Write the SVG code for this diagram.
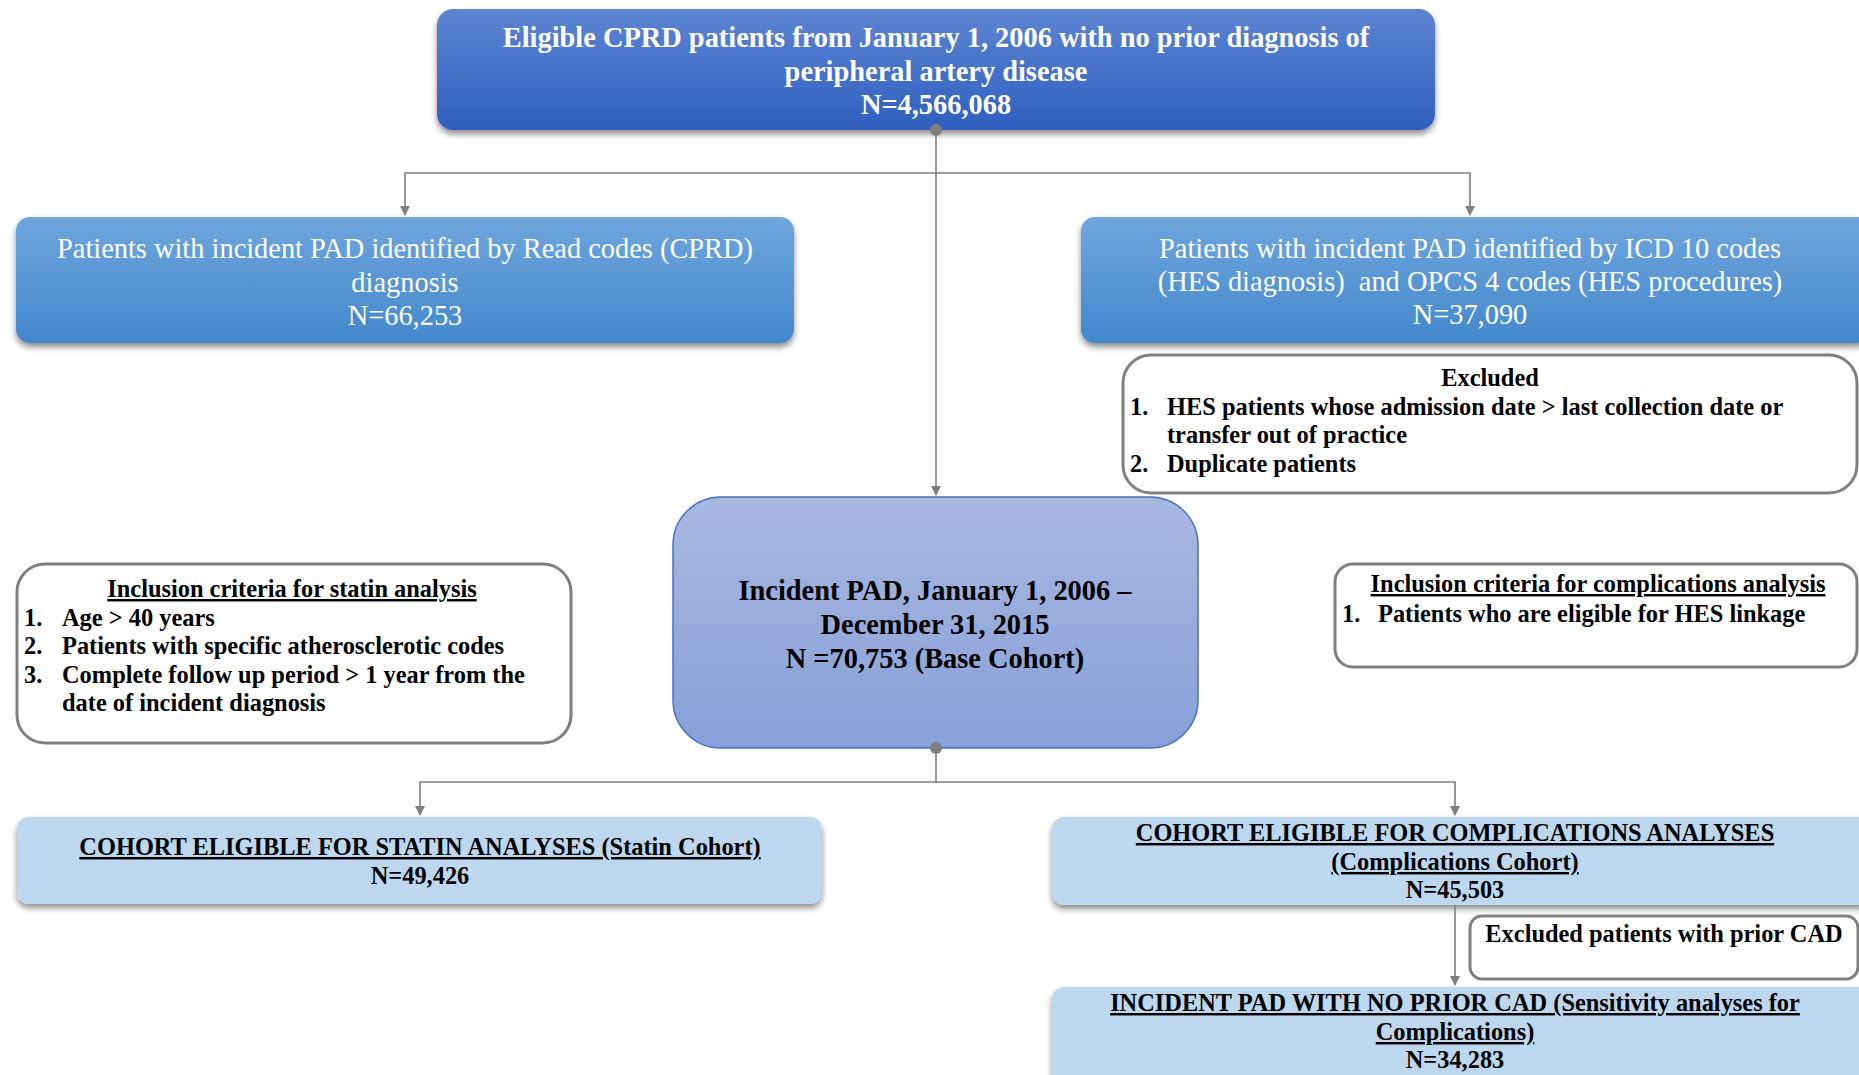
<svg xmlns="http://www.w3.org/2000/svg" width="1859" height="1075" viewBox="0 0 1859 1075">
<defs>
<linearGradient id="gTop" x1="0" y1="0" x2="0" y2="1"><stop offset="0" stop-color="#5d85d2"/><stop offset="1" stop-color="#2f5fbe"/></linearGradient>
<linearGradient id="gMid" x1="0" y1="0" x2="0" y2="1"><stop offset="0" stop-color="#6fa6dd"/><stop offset="1" stop-color="#4288cb"/></linearGradient>
<linearGradient id="gBase" x1="0" y1="0" x2="0" y2="1"><stop offset="0" stop-color="#a9b8e0"/><stop offset="1" stop-color="#87a0d8"/></linearGradient>
<filter id="sh" x="-5%" y="-10%" width="110%" height="130%"><feDropShadow dx="0" dy="4" stdDeviation="3" flood-color="#000" flood-opacity="0.45"/></filter>
<marker id="arr" markerWidth="10" markerHeight="10" refX="9" refY="5" orient="auto" markerUnits="userSpaceOnUse"><path d="M0,0 L10,5 L0,10 z" fill="#7f7f7f"/></marker>
<style>
text{font-family:"Liberation Serif","Times New Roman",serif;}
.w{fill:#fff;font-size:28.4px;text-anchor:middle;}
.wb{fill:#fff;font-size:28.4px;font-weight:bold;text-anchor:middle;}
.b{fill:#000;font-size:24.4px;font-weight:bold;}
.bc{fill:#000;font-size:24.4px;font-weight:bold;text-anchor:middle;}
.big{fill:#000;font-size:28.4px;font-weight:bold;text-anchor:middle;}
.u{text-decoration:underline;}
.crit{fill:#fff;stroke:#7f7f7f;stroke-width:3;}
.lb{fill:#bdd7ee;}
.ln{fill:none;stroke:#7f7f7f;stroke-width:1.6;}
</style>
</defs>

<g id="top">
<rect x="437" y="9" width="998" height="121" rx="16" fill="url(#gTop)" filter="url(#sh)"/>
<text class="wb" x="936" y="47">Eligible CPRD patients from January 1, 2006 with no prior diagnosis of</text>
<text class="wb" x="936" y="81">peripheral artery disease</text>
<text class="wb" x="936" y="114">N=4,566,068</text>
</g>

<g id="read">
<rect x="16" y="217" width="778" height="126" rx="14" fill="url(#gMid)" filter="url(#sh)"/>
<text class="w" x="405" y="258">Patients with incident PAD identified by Read codes (CPRD)</text>
<text class="w" x="405" y="292">diagnosis</text>
<text class="w" x="405" y="325">N=66,253</text>
</g>

<g id="icd">
<rect x="1081" y="217" width="790" height="126" rx="14" fill="url(#gMid)" filter="url(#sh)"/>
<text class="w" x="1470" y="258">Patients with incident PAD identified by ICD 10 codes</text>
<text class="w" x="1470" y="291" xml:space="preserve">(HES diagnosis)  and OPCS 4 codes (HES procedures)</text>
<text class="w" x="1470" y="324">N=37,090</text>
</g>

<g id="excluded">
<rect class="crit" x="1123" y="355" width="734" height="138" rx="28"/>
<text class="bc" x="1490" y="386">Excluded</text>
<text class="b" x="1130" y="415">1.</text>
<text class="b" x="1167" y="415">HES patients whose admission date &gt; last collection date or</text>
<text class="b" x="1167" y="443">transfer out of practice</text>
<text class="b" x="1130" y="472">2.</text>
<text class="b" x="1167" y="472">Duplicate patients</text>
</g>

<g id="statin-criteria">
<rect class="crit" x="17" y="564" width="554" height="179" rx="28"/>
<text class="bc u" x="292" y="597">Inclusion criteria for statin analysis</text>
<text class="b" x="24" y="626">1.</text>
<text class="b" x="62" y="626">Age &gt; 40 years</text>
<text class="b" x="24" y="654">2.</text>
<text class="b" x="62" y="654">Patients with specific atherosclerotic codes</text>
<text class="b" x="24" y="683">3.</text>
<text class="b" x="62" y="683">Complete follow up period &gt; 1 year from the</text>
<text class="b" x="62" y="711">date of incident diagnosis</text>
</g>

<g id="base">
<rect x="673" y="497" width="525" height="251" rx="48" fill="url(#gBase)" stroke="#4472c4" stroke-width="1.5"/>
<text class="big" x="935" y="600">Incident PAD, January 1, 2006 –</text>
<text class="big" x="935" y="634">December 31, 2015</text>
<text class="big" x="935" y="668">N =70,753 (Base Cohort)</text>
</g>

<g id="comp-criteria">
<rect class="crit" x="1335" y="564" width="522" height="103" rx="18"/>
<text class="bc u" x="1598" y="592">Inclusion criteria for complications analysis</text>
<text class="b" x="1342" y="622">1.</text>
<text class="b" x="1378" y="622">Patients who are eligible for HES linkage</text>
</g>

<g id="statin-cohort">
<rect class="lb" x="17" y="817" width="805" height="87" rx="12" filter="url(#sh)"/>
<text class="bc u" x="420" y="855">COHORT ELIGIBLE FOR STATIN ANALYSES (Statin Cohort)</text>
<text class="bc" x="420" y="884">N=49,426</text>
</g>

<g id="comp-cohort">
<rect class="lb" x="1052" y="817" width="820" height="88" rx="12" filter="url(#sh)"/>
<text class="bc u" x="1455" y="841">COHORT ELIGIBLE FOR COMPLICATIONS ANALYSES</text>
<text class="bc u" x="1455" y="870">(Complications Cohort)</text>
<text class="bc" x="1455" y="898">N=45,503</text>
</g>

<g id="prior-cad">
<rect class="crit" x="1470" y="916" width="388" height="63" rx="12"/>
<text class="bc" x="1664" y="942">Excluded patients with prior CAD</text>
</g>

<g id="no-prior-cad">
<rect class="lb" x="1052" y="987" width="820" height="110" rx="12" filter="url(#sh)"/>
<text class="bc u" x="1455" y="1011">INCIDENT PAD WITH NO PRIOR CAD (Sensitivity analyses for</text>
<text class="bc u" x="1455" y="1040">Complications)</text>
<text class="bc" x="1455" y="1068">N=34,283</text>
</g>

<g id="connectors">
<path class="ln" d="M936,130 V495" marker-end="url(#arr)"/>
<path class="ln" d="M936,173 H405 V215" marker-end="url(#arr)"/>
<path class="ln" d="M936,173 H1470 V215" marker-end="url(#arr)"/>
<path class="ln" d="M936,748 V782 H420 V815" marker-end="url(#arr)"/>
<path class="ln" d="M936,782 H1455 V815" marker-end="url(#arr)"/>
<path class="ln" d="M1455,905 V985" marker-end="url(#arr)"/>
<circle cx="936" cy="130" r="6" fill="#7f7f7f"/>
<circle cx="936" cy="748" r="6" fill="#7f7f7f"/>
</g>
</svg>
